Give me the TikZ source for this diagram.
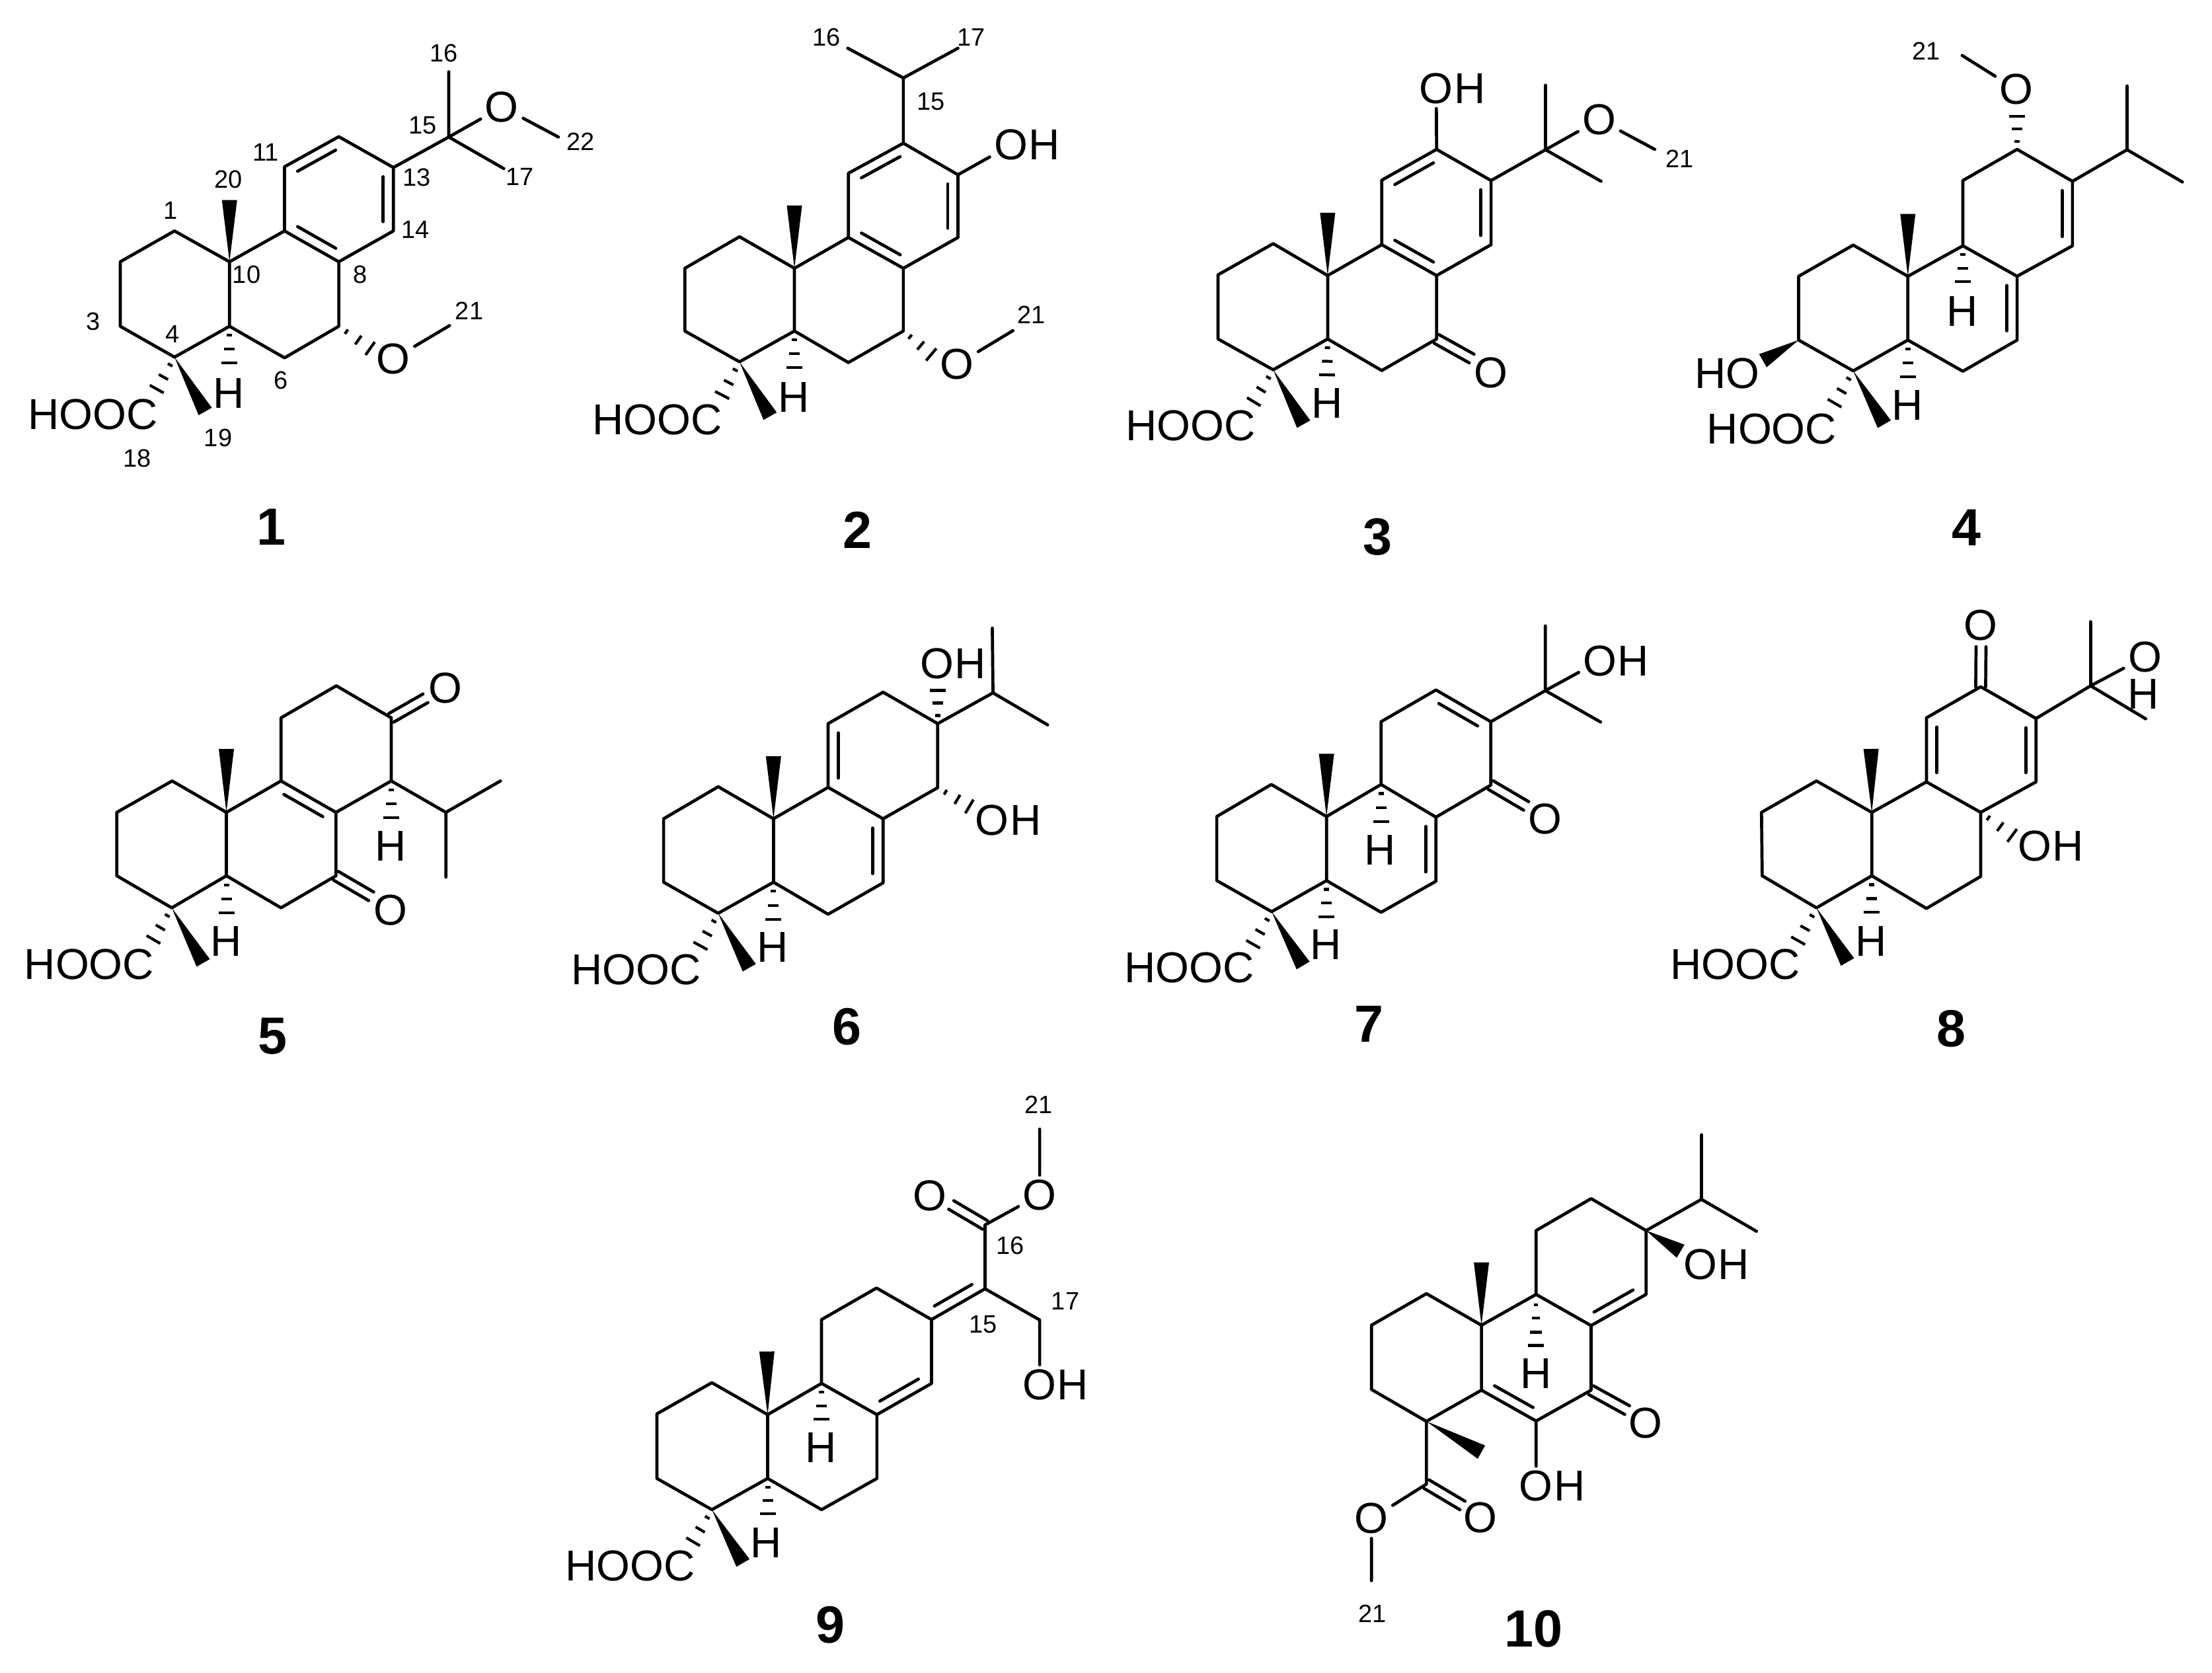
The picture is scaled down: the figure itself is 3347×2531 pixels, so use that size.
\documentclass[tikz,border=0pt]{standalone}
\usepackage{fontspec}
\setmainfont{Liberation Sans}
\usetikzlibrary{calc,positioning}
\tikzset{
  bond/.style={line width=.47mm,line cap=round,line join=round},
  hashline/.style={line width=.42mm},
  atom/.style={inner sep=.6mm,font=\fontsize{18.6}{20}\selectfont},
  numlabel/.style={inner sep=0pt,font=\fontsize{10.8}{12}\selectfont},
  cpdlabel/.style={inner sep=0pt,font=\bfseries\fontsize{22.5}{26}\selectfont},
  panel/.style n args={4}{shift={(#1,-#2)},xscale=#3/1568,yscale=-#4/1568}
}
\newcommand{\atoms}[1]{\foreach \n/\x/\y in {#1} \coordinate (\n) at (\x,\y);}
\newcommand{\numbers}[1]{\foreach \t/\x/\y in {#1} \node[numlabel] (n\t) at (\x,\y) {\t};}
\newcommand{\wedgebond}[2]{\fill[reset cm] (#1) -- ($(#2)!1.15mm!90:(#1)$) -- ($(#2)!1.15mm!-90:(#1)$) -- cycle;}
\newcommand{\hashbond}[3][.22/.4mm,.56/.8mm,.9/1.2mm]{\foreach \f/\w in {#1}
  \draw[hashline,reset cm] ($(#2)!\f!(#3)!\w!90:(#3)$) -- ($(#2)!\f!(#3)!\w!-90:(#3)$);}
\newcommand{\dbond}[2]{\draw[bond,reset cm] ($(#1)!1.4mm!(#2)!1.55mm!90:(#2)$) -- ($(#2)!1.4mm!(#1)!1.55mm!-90:(#1)$);}
\newcommand{\carbonyl}[2]{\draw[bond,reset cm] ($(#1)!.75mm!90:(#2)$) -- ($(#2)!.75mm!-90:(#1)$)
  ($(#1)!.75mm!-90:(#2)$) -- ($(#2)!.75mm!90:(#1)$);}
\newcommand{\hydroxy}[3]{\node[atom] (#1) at (#2,#3) {O}; \node[atom,right=-1.2mm of #1] (#1h) {H};}
\newcommand{\skeleton}{\draw[bond] (c10) -- (c1) -- (c2) -- (c3) -- (c4) -- (c5) -- cycle
  (c5) -- (c6) -- (c7) -- (c8) -- (c9) -- (c10)
  (c9) -- (c11) -- (c12) -- (c13) -- (c14) -- (c8);
  \wedgebond{c10}{me20}}
\newcommand{\acidpart}[4]{\node[atom] (hooc) at (#1,#2) {HOOC}; \node[atom] (hfive) at (#3,#4) {H};
  \wedgebond{c4}{me19} \hashbond{c4}{hc} \hashbond{c5}{h5}}
\begin{document}
\begin{tikzpicture}[x=.01cm,y=.01cm]
\useasboundingbox (0,0) rectangle (3347,-2531);

\begin{scope}[panel={0}{0}{900}{860}] % compound 1
\atoms{c1/460/637,c2/317/722,c3/317/900,c4/460/985,c5/605/900,c10/605/722,c6/750/987,c7/893/900,c8/893/722,c9/750/637,c11/750/460,c12/893/377,c13/1037/462,c14/1037/637,c15/1183/378,c16/1183/198,c17/1328/465,c22/1472/378,c21/1185/898,me20/605/552,me19/541/1135,h5/605/1012,hc/408/1083,hb/985/968}
\skeleton
\dbond{c12}{c11} \dbond{c9}{c8} \dbond{c14}{c13}
\acidpart{245}{1143}{603}{1085}
\node[atom] (oa) at (1323,295) {O};
\node[atom] (ob) at (1037,990) {O};
\draw[bond] (c13) -- (c15) -- (c16) (c15) -- (c17) (c15) -- (oa) -- (c22) (ob) -- (c21);
\hashbond{c7}{hb}
\numbers{16/1170/147,15/1115/345,11/700/420,20/602/495,1/450/580,10/650/757,13/1098/490,14/1095/633,17/1370/487,22/1530/390,8/950/757,21/1237/857,3/245/887,4/455/922,6/740/1050,19/575/1208,18/362/1265}
\node[cpdlabel] (cpd1) at (715,1453) {1};
\end{scope}

\begin{scope}[panel={850}{0}{800}{860}] % compound 2
\atoms{c1/527/653,c2/365/740,c3/365/913,c4/527/998,c5/690/913,c10/690/740,c6/850/1000,c7/1013/913,c8/1013/740,c9/850/655,c11/850/478,c12/1013/395,c13/1175/482,c14/1175/655,c15/1013/215,c16/848/133,c17/1175/133,c21/1338/912,me20/690/567,me19/618/1148,h5/690/1025,hc/470/1100,hb/1105/985}
\skeleton
\dbond{c12}{c11} \dbond{c9}{c8} \dbond{c14}{c13}
\acidpart{283}{1158}{688}{1095}
\hydroxy{oa}{1332}{400}
\node[atom] (ob) at (1172,1005) {O};
\draw[bond] (c12) -- (c15) -- (c16) (c15) -- (c17) (c13) -- (oa) (ob) -- (c21);
\hashbond{c7}{hb}
\numbers{16/785/103,17/1215/103,15/1095/280,21/1393/868}
\node[cpdlabel] (cpd2) at (877,1462) {2};
\end{scope}

\begin{scope}[panel={1650}{0}{850}{860}] % compound 3
\atoms{c1/510/672,c2/356/758,c3/356/935,c4/510/1020,c5/662/935,c10/662/760,c6/813/1022,c7/966/935,c8/966/760,c9/813/675,c11/813/497,c12/966/412,c13/1118/498,c14/1118/675,c15/1270/413,c16/1270/235,c17/1425/500,c21/1575/412,ox/1064/989,me20/662/587,me19/595/1170,h5/660/1045,hc/450/1118}
\skeleton
\dbond{c12}{c11} \dbond{c9}{c8} \dbond{c14}{c13}
\acidpart{280}{1175}{660}{1112}
\hydroxy{oa}{965}{245}
\node[atom] (ob) at (1420,330) {O};
\node[atom] (oc) at (1117,1028) {O};
\draw[bond] (c12) -- (oa) (c13) -- (c15) -- (c16) (c15) -- (c17) (c15) -- (ob) -- (c21);
\carbonyl{c7}{ox}
\numbers{21/1645/438}
\node[cpdlabel] (cpd3) at (802,1482) {3};
\end{scope}

\begin{scope}[panel={2500}{0}{847}{860}] % compound 4
\atoms{c1/563/676,c2/410/762,c3/410/938,c4/563/1023,c5/716/938,c10/716/762,c6/870/1024,c7/1022/938,c8/1022/762,c9/870/678,c11/870/498,c12/1022/412,c13/1177/500,c14/1177/678,c15/1330/413,c16/1330/237,c17/1485/502,c21/868/153,me20/716/590,me19/650/1170,h5/716/1050,hc/505/1122,hb/1022/310,hd/870/788,he/310/995}
\skeleton
\dbond{c14}{c13} \dbond{c7}{c8}
\acidpart{335}{1183}{715}{1118}
\node[atom] (oa) at (1020,247) {O};
\node[atom] (hnine) at (868,858) {H};
\node[atom] (hoa) at (210,1030) {HO};
\draw[bond] (c13) -- (c15) -- (c16) (c15) -- (c17) (oa) -- (c21);
\hashbond{c12}{hb} \hashbond{c9}{hd} \wedgebond{c3}{he}
\numbers{21/767/140}
\node[cpdlabel] (cpd4) at (880,1455) {4};
\end{scope}

\begin{scope}[panel={0}{880}{820}{760}] % compound 5
\atoms{c1/498/622,c2/338/720,c3/338/918,c4/497/1018,c5/655/918,c10/655/720,c6/813/1018,c7/972/918,c8/972/720,c9/813/622,c11/813/425,c12/973/325,c13/1132/425,c14/1132/622,c15/1290/720,c16/1448/622,c17/1290/922,ox/1231/364,oy/1074/982,me20/655/522,me19/588/1190,h5/655/1047,hc/438/1128,hb/1132/750}
\skeleton
\dbond{c8}{c9}
\acidpart{258}{1195}{655}{1122}
\node[atom] (oa) at (1288,332) {O};
\node[atom] (ob) at (1130,1025) {O};
\node[atom] (hfourteen) at (1130,825) {H};
\draw[bond] (c14) -- (c15) -- (c16) (c15) -- (c17);
\carbonyl{c13}{ox} \carbonyl{c7}{oy} \hashbond{c14}{hb}
\node[cpdlabel] (cpd5) at (788,1418) {5};
\end{scope}

\begin{scope}[panel={820}{880}{820}{760}] % compound 6
\atoms{c1/510/640,c2/352/740,c3/352/938,c4/510/1035,c5/670/938,c10/670/740,c6/828/1038,c7/987/940,c8/987/740,c9/828/642,c11/828/443,c12/987/345,c13/1145/443,c14/1145/643,c15/1305/347,c16/1303/145,c17/1463/447,me20/670/545,me19/600/1205,h5/670/1067,hc/453/1148,hb/1145/328,hd/1247/708}
\skeleton
\dbond{c11}{c9} \dbond{c7}{c8}
\acidpart{273}{1212}{668}{1140}
\hydroxy{oa}{1143}{255}
\hydroxy{ob}{1303}{745}
\draw[bond] (c13) -- (c15) -- (c16) (c15) -- (c17);
\hashbond{c13}{hb} \hashbond{c14}{hd}
\node[cpdlabel] (cpd6) at (882,1390) {6};
\end{scope}

\begin{scope}[panel={1660}{880}{840}{760}] % compound 7
\atoms{c1/492/633,c2/338/733,c3/338/933,c4/493/1030,c5/648/933,c10/648/733,c6/802/1032,c7/957/935,c8/957/735,c9/802/633,c11/802/437,c12/957/338,c13/1112/437,c14/1112/635,c15/1266/340,c16/1266/138,c17/1422/438,ox/1212/700,me20/648/537,me19/582/1198,h5/648/1058,hc/435/1143,hb/802/762}
\skeleton
\dbond{c13}{c12} \dbond{c7}{c8}
\acidpart{260}{1205}{646}{1133}
\hydroxy{oa}{1420}{247}
\node[atom] (ob) at (1265,740) {O};
\node[atom] (hnine) at (800,838) {H};
\draw[bond] (c13) -- (c15) -- (c16) (c15) -- (c17) (c15) -- (oa);
\carbonyl{c14}{ox} \hashbond{c9}{hb}
\node[cpdlabel] (cpd7) at (768,1380) {7};
\end{scope}

\begin{scope}[panel={2500}{880}{847}{760}] % compound 8
\atoms{c1/460/622,c2/306/720,c3/308/918,c4/460/1018,c5/615/918,c10/615/720,c6/768/1020,c7/920/920,c8/920/720,c9/768/625,c11/768/425,c12/920/328,c13/1075/427,c14/1075/625,c15/1228/325,c16/1228/125,c17/1382/428,ox/921/203,me20/613/522,me19/547/1187,h5/615/1045,hc/403/1132,hb/1018/800}
\skeleton
\dbond{c11}{c9} \dbond{c14}{c13}
\acidpart{232}{1195}{613}{1122}
\node[atom] (oa) at (1380,235) {O};
\node[atom] (hoa) at (1375,350) {H};
\node[atom] (ob) at (920,137) {O};
\hydroxy{oc}{1072}{825}
\draw[bond] (c13) -- (c15) -- (c16) (c15) -- (c17) (c15) -- (oa);
\carbonyl{c12}{ox} \hashbond{c8}{hb}
\node[cpdlabel] (cpd8) at (838,1395) {8};
\end{scope}

\begin{scope}[panel={820}{1640}{900}{891}] % compound 9
\atoms{c1/448/795,c2/303/878,c3/303/1050,c4/448/1133,c5/595/1050,c10/595/880,c6/737/1133,c7/883/1050,c8/883/880,c9/737/797,c11/737/627,c12/882/543,c13/1027/627,c14/1027/797,c15/1168/545,c16/1168/375,c17/1312/628,c21/1312/120,ox/1079/322,me20/593/712,me19/530/1275,h5/595/1155,hc/393/1228,hb/737/903}
\skeleton
\dbond{c13}{c15} \dbond{c8}{c14}
\acidpart{232}{1283}{590}{1222}
\node[atom] (oa) at (1022,297) {O};
\node[atom] (ob) at (1312,295) {O};
\hydroxy{oc}{1312}{800}
\node[atom] (hnine) at (735,968) {H};
\draw[bond] (c13) -- (c15) -- (c16) (c15) -- (c17) -- (oc) (c16) -- (ob) -- (c21);
\carbonyl{c16}{ox} \hashbond{c9}{hb}
\numbers{21/1310/55,16/1235/430,15/1163/640,17/1380/578}
\node[cpdlabel] (cpd9) at (760,1440) {9};
\end{scope}

\begin{scope}[panel={1950}{1640}{900}{891}] % compound 10
\atoms{c1/363/558,c2/218/642,c3/218/813,c4/363/898,c5/508/815,c10/508/642,c6/652/897,c7/797/815,c8/797/643,c9/652/560,c11/652/390,c12/797/305,c13/942/390,c14/942/560,c15/1088/307,c16/1088/135,c17/1233/392,ce/363/1065,c21/218/1322,ox/892/868,oy/458/1122,me20/508/475,me19/508/980,hb/652/708,he/1033/445}
\skeleton
\dbond{c8}{c14} \dbond{c5}{c6}
\hydroxy{oa}{1085}{480}
\hydroxy{ob}{652}{1070}
\node[atom] (oc) at (940,902) {O};
\node[atom] (od) at (505,1155) {O};
\node[atom] (oe) at (218,1157) {O};
\node[atom] (hnine) at (652,770) {H};
\draw[bond] (c13) -- (c15) -- (c16) (c15) -- (c17) (c6) -- (ob) (c4) -- (ce) -- (oe) -- (c21);
\carbonyl{c7}{ox} \carbonyl{ce}{oy}
\wedgebond{c4}{me19} \wedgebond{c13}{he}
\hashbond[.19/.3mm,.43/.6mm,.68/.9mm,.92/1.2mm]{c9}{hb}
\numbers{21/220/1410}
\node[cpdlabel] (cpd10) at (645,1450) {10};
\end{scope}
\end{tikzpicture}
\end{document}
